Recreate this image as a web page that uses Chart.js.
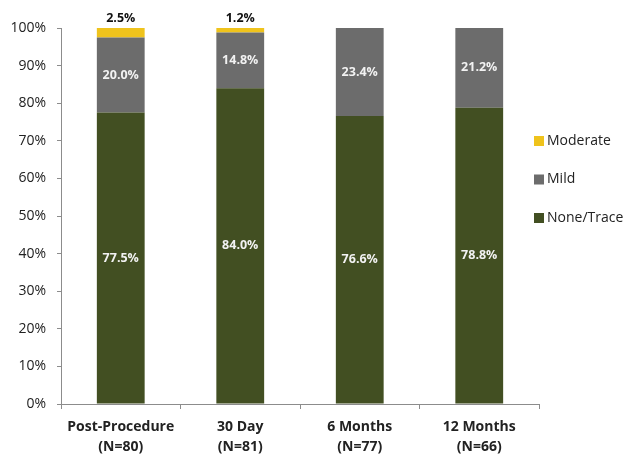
<!DOCTYPE html>
<html>
<head>
<meta charset="utf-8">
<script src="https://cdn.jsdelivr.net/npm/chart.js@4/dist/chart.umd.min.js"></script>
<style>
  html, body { margin: 0; padding: 0; background: #fff; }
  #wrap { width: 627px; height: 455px; }
</style>
</head>
<body>
<div id="wrap"><canvas id="chart" width="627" height="455"></canvas></div>
<script>
// follow-up visits
var visits = [['Post-Procedure', '(N=80)'], ['30 Day', '(N=81)'], ['6 Months', '(N=77)'], ['12 Months', '(N=66)']];

// percentage of patients per grade
var noneTrace = [77.5, 84.0, 76.6, 78.8];
var mild = [20.0, 14.8, 23.4, 21.2];
var moderate = [2.5, 1.2, 0, 0];

var yTicks = [0, 10, 20, 30, 40, 50, 60, 70, 80, 90, 100];

var FONT = '"Open Sans", "Liberation Sans", sans-serif';

// segment values, white inside the bar, dark above it for Moderate
var segmentLabels = {
    id: 'segmentLabels',
    afterDatasetsDraw: function(chart) {
        var ctx = chart.ctx;
        ctx.save();
        ctx.textAlign = 'center';
        ctx.textBaseline = 'middle';
        ctx.font = 'bold 12.5px ' + FONT;
        chart.data.datasets.forEach(function(ds, di) {
            var meta = chart.getDatasetMeta(di);
            meta.data.forEach(function(bar, i) {
                var v = ds.data[i];
                if (!v) return;
                var txt = v.toFixed(1) + '%';
                if (ds.label === 'Moderate') {
                    ctx.fillStyle = '#111';
                    ctx.fillText(txt, bar.x, bar.y - 10);
                } else {
                    ctx.fillStyle = '#f2f2f2';
                    ctx.fillText(txt, bar.x, (bar.y + bar.base) / 2);
                }
            });
        });
        ctx.restore();
    }
};

// legend on the right, top entry first
var sideLegend = {
    id: 'sideLegend',
    afterDraw: function(chart) {
        var ctx = chart.ctx;
        var items = chart.data.datasets.slice().reverse();
        ctx.save();
        ctx.font = '14px ' + FONT;
        ctx.textBaseline = 'middle';
        ctx.textAlign = 'left';
        items.forEach(function(ds, i) {
            var y = 141 + i * 38.5;
            ctx.fillStyle = ds.backgroundColor;
            ctx.fillRect(534, y - 5, 10, 10);
            ctx.fillStyle = '#222';
            ctx.fillText(ds.label, 547, y);
        });
        ctx.restore();
    }
};

new Chart(document.getElementById('chart'), {
    type: 'bar',
    data: {
        labels: visits,
        datasets: [
            { label: 'None/Trace', data: noneTrace, backgroundColor: '#424f22' },
            { label: 'Mild', data: mild, backgroundColor: '#6c6c6c' },
            { label: 'Moderate', data: moderate, backgroundColor: '#efc31c' }
        ]
    },
    options: {
        responsive: false,
        animation: false,
        layout: { padding: { top: 28, right: 88, left: 0, bottom: 0 } },
        plugins: {
            legend: { display: false },
            tooltip: { enabled: false }
        },
        datasets: {
            bar: { categoryPercentage: 1, barPercentage: 0.4 }
        },
        scales: {
            x: {
                stacked: true,
                border: { color: '#8c8c8c', width: 1 },
                grid: { offset: true, drawOnChartArea: false, drawTicks: true, tickLength: 5, color: '#8c8c8c' },
                ticks: { color: '#222', font: { family: FONT, size: 14, weight: 'bold', lineHeight: 1.45 }, padding: 8, maxRotation: 0 },
                afterFit: function(s) { s.height = 51; }
            },
            y: {
                stacked: true,
                min: 0,
                max: 100,
                afterBuildTicks: function(s) { s.ticks = yTicks.map(function(v) { return { value: v }; }); },
                border: { color: '#8c8c8c', width: 1 },
                grid: { drawOnChartArea: false, drawTicks: true, tickLength: 4, color: '#8c8c8c' },
                ticks: {
                    color: '#222',
                    font: { family: FONT, size: 14 },
                    padding: 11,
                    callback: function(v) { return v + '%'; }
                },
                afterFit: function(s) { s.width = 61; }
            }
        }
    },
    plugins: [segmentLabels, sideLegend]
});
</script>
</body>
</html>
